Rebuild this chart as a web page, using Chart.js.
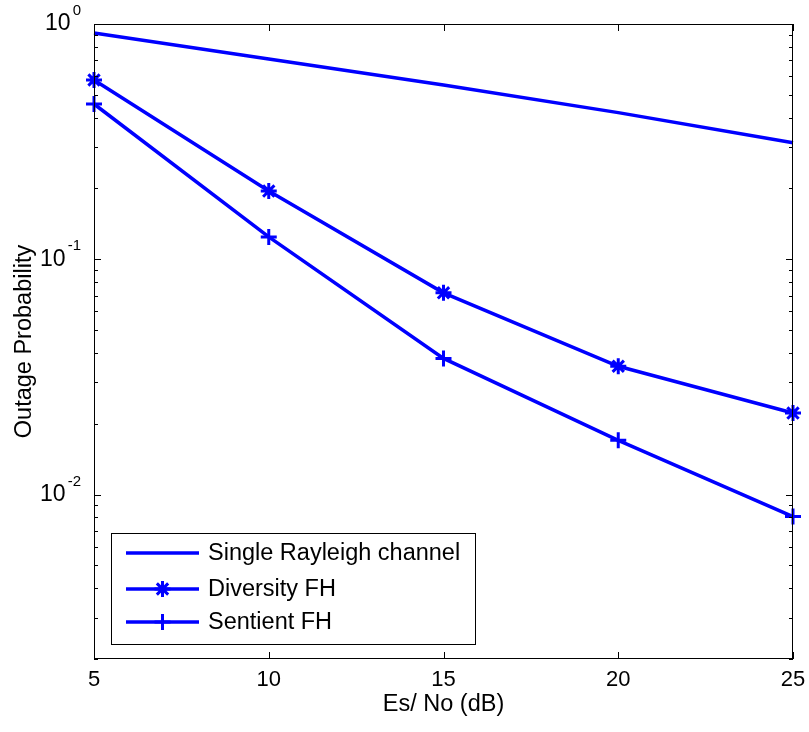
<!DOCTYPE html>
<html lang="en">
<head>
<meta charset="UTF-8">
<title>Outage Probability</title>
<script src="https://cdn.jsdelivr.net/npm/chart.js@4.4.1/dist/chart.umd.min.js"></script>
<style>
    html, body { margin: 0; padding: 0; background: #fff; }
    .chart-container { position: relative; width: 809px; height: 732px; }
</style>
</head>
<body>
<div class="chart-container">
    <canvas id="myChart"></canvas>
</div>
<script>
// data
const snrDb = [5, 10, 15, 20, 25];
const singleRayleigh = [0.915, 0.71, 0.55, 0.42, 0.313];
const diversityFH = [0.578, 0.195, 0.072, 0.0351, 0.0222];
const sentientFH = [0.457, 0.1245, 0.0379, 0.0170, 0.00806];
const xTicks = [5, 10, 15, 20, 25];
const yMajorExp = [0, -1, -2];

const FONT = '"Liberation Sans", Arial, sans-serif';
const BLUE = '#0000ff';

// frame, inward ticks and 10^n labels
const framePlugin = {
    id: 'frame',
    afterDraw(chart) {
        const { ctx, chartArea: a, scales } = chart;
        const x = scales.x, y = scales.y;
        ctx.save();
        ctx.strokeStyle = '#000';
        ctx.lineWidth = 1;
        ctx.strokeRect(a.left + 0.5, a.top + 0.5, a.right - a.left - 1, a.bottom - a.top - 1);
        ctx.beginPath();
        xTicks.forEach(v => {
            const px = Math.round(x.getPixelForValue(v)) + 0.5;
            ctx.moveTo(px, a.bottom); ctx.lineTo(px, a.bottom - 7);
            ctx.moveTo(px, a.top); ctx.lineTo(px, a.top + 7);
        });
        for (let e = -3; e <= 0; e++) {
            for (let m = 1; m <= 9; m++) {
                const v = m * Math.pow(10, e);
                if (v < y.min - 1e-9 || v > y.max + 1e-9) continue;
                const py = Math.round(y.getPixelForValue(v)) + 0.5;
                const len = m === 1 ? 7 : 4;
                ctx.moveTo(a.left, py); ctx.lineTo(a.left + len, py);
                ctx.moveTo(a.right, py); ctx.lineTo(a.right - len, py);
            }
        }
        ctx.stroke();

        ctx.fillStyle = '#000';
        ctx.textBaseline = 'middle';
        yMajorExp.forEach(e => {
            const py = y.getPixelForValue(Math.pow(10, e));
            const exp = String(e);
            ctx.font = '15px ' + FONT;
            const ew = ctx.measureText(exp).width;
            const right = 81;
            const baseRight = right - ew - 2;
            ctx.font = '23px ' + FONT;
            ctx.textAlign = 'right';
            ctx.fillText('10', baseRight, py);
            ctx.font = '15px ' + FONT;
            ctx.textAlign = 'left';
            ctx.fillText(exp, baseRight + 2, py - 13);
        });
        ctx.restore();
    }
};

// boxed legend in the lower left of the axes
const legendPlugin = {
    id: 'boxLegend',
    afterDraw(chart) {
        const { ctx } = chart;
        const box = { left: 111, top: 533, right: 475, bottom: 644 };
        const rows = [553, 589, 622];
        ctx.save();
        ctx.fillStyle = '#fff';
        ctx.fillRect(box.left, box.top, box.right - box.left, box.bottom - box.top);
        ctx.strokeStyle = '#000';
        ctx.lineWidth = 1;
        ctx.strokeRect(box.left + 0.5, box.top + 0.5, box.right - box.left, box.bottom - box.top);
        chart.data.datasets.forEach((ds, i) => {
            const cy = rows[i];
            ctx.strokeStyle = ds.borderColor;
            ctx.lineWidth = ds.borderWidth;
            ctx.beginPath();
            ctx.moveTo(126, cy); ctx.lineTo(199, cy);
            ctx.stroke();
            if (ds.pointRadius > 0) {
                ctx.lineWidth = ds.pointBorderWidth;
                Chart.helpers.drawPoint(ctx, {
                    pointStyle: ds.pointStyle,
                    radius: ds.pointRadius,
                    borderWidth: ds.pointBorderWidth
                }, 162.5, cy);
            }
            ctx.fillStyle = '#000';
            ctx.font = '23.5px ' + FONT;
            ctx.textAlign = 'left';
            ctx.textBaseline = 'middle';
            ctx.fillText(ds.label, 208, cy + 1);
        });
        ctx.restore();
    }
};

const ctx = document.getElementById('myChart').getContext('2d');
new Chart(ctx, {
    type: 'line',
    data: {
        labels: snrDb,
        datasets: [
            {
                label: 'Single Rayleigh channel',
                data: snrDb.map((v, i) => ({ x: v, y: singleRayleigh[i] })),
                borderColor: BLUE,
                backgroundColor: BLUE,
                borderWidth: 3.5,
                pointRadius: 0,
                pointBorderWidth: 0,
                clip: false,
                tension: 0
            },
            {
                label: 'Diversity FH',
                data: snrDb.map((v, i) => ({ x: v, y: diversityFH[i] })),
                borderColor: BLUE,
                backgroundColor: BLUE,
                borderWidth: 3.5,
                pointStyle: 'star',
                pointRadius: 8,
                pointBorderWidth: 3,
                pointBorderColor: BLUE,
                clip: false,
                tension: 0
            },
            {
                label: 'Sentient FH',
                data: snrDb.map((v, i) => ({ x: v, y: sentientFH[i] })),
                borderColor: BLUE,
                backgroundColor: BLUE,
                borderWidth: 3.5,
                pointStyle: 'cross',
                pointRadius: 8,
                pointBorderWidth: 3,
                pointBorderColor: BLUE,
                clip: false,
                tension: 0
            }
        ]
    },
    options: {
        responsive: true,
        maintainAspectRatio: false,
        animation: false,
        layout: { padding: { top: 24, right: 16, left: 0, bottom: 0 } },
        plugins: {
            legend: { display: false },
            tooltip: { enabled: false }
        },
        scales: {
            x: {
                type: 'linear',
                min: 5,
                max: 25,
                grid: { display: false, drawTicks: false },
                border: { display: false },
                ticks: {
                    stepSize: 5,
                    padding: 8,
                    color: '#000',
                    font: { family: FONT, size: 22 },
                    maxRotation: 0
                },
                title: {
                    display: true,
                    text: 'Es/ No (dB)',
                    color: '#000',
                    font: { family: FONT, size: 23.5 },
                    padding: { top: 0, bottom: 13 }
                },
                afterFit(scale) {
                    scale.height = 73;
                    scale.paddingLeft = 0;
                    scale.paddingRight = 0;
                }
            },
            y: {
                type: 'logarithmic',
                min: 0.002,
                max: 1,
                grid: { display: false, drawTicks: false },
                border: { display: false },
                ticks: { display: false },
                title: {
                    display: true,
                    text: 'Outage Probability',
                    color: '#000',
                    font: { family: FONT, size: 23.5 },
                    padding: { top: 10, bottom: 0 }
                },
                afterFit(scale) {
                    scale.width = 94;
                    scale.paddingTop = 0;
                    scale.paddingBottom = 0;
                }
            }
        }
    },
    plugins: [framePlugin, legendPlugin]
});
</script>
</body>
</html>
